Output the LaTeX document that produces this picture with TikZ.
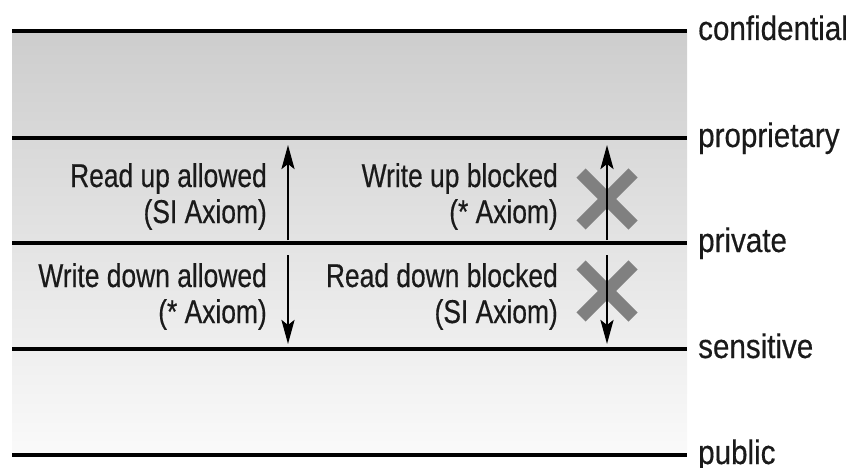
\documentclass[tikz,border=0pt]{standalone}
\usepackage{fontspec}
\setmainfont{Liberation Sans}[FakeStretch=0.8,FakeBold=0.4]
\newfontfamily\levelfont{Liberation Sans}[FakeStretch=0.87,FakeBold=0.4]
\usetikzlibrary{arrows.meta}
\definecolor{xgray}{HTML}{808080}
\definecolor{topg}{HTML}{CDCDCD}
\definecolor{botg}{HTML}{FAFAFA}
\definecolor{txt}{HTML}{1A1A1A}
\begin{document}
\begin{tikzpicture}[x=1pt,y=1pt,
  levelline/.style={line width=4.5pt,black},
  levellabel/.style={anchor=base west,inner sep=0pt,text=txt,font=\levelfont\fontsize{34}{38}\selectfont},
  desc/.style={anchor=base east,inner sep=0pt,text=txt,font=\fontsize{33}{38}\selectfont},
  flow/.style={line width=2.6pt,black,-{Stealth[length=24pt,width=13pt,inset=5pt]}},
  blockx/.style={line width=13pt,xgray}]
\useasboundingbox (0,0) rectangle (854,-468);
% gradient band
\shade[top color=topg,bottom color=botg] (12,-31) rectangle (687,-455);
% level lines and labels
\foreach \y/\name/\lab in {31/confidential/confidential,138/proprietary/proprietary,243/private/private,349/sensitive/sensitive,455/public/public}{
  \coordinate (\name-s) at (12,-\y);
  \coordinate (\name-e) at (687,-\y);
  \draw[levelline] (\name-s) -- (\name-e);
  \node[levellabel] (\name-lab) at (698,-\y-9) {\lab};
}
% blocked crosses
\coordinate (x1) at (607,-199);
\coordinate (x2) at (607,-291);
\foreach \c in {x1,x2}{
  \draw[blockx] ([shift={(-26,-26)}]\c) -- ([shift={(26,26)}]\c);
  \draw[blockx] ([shift={(26,-26)}]\c) -- ([shift={(-26,26)}]\c);
}
% arrows
\coordinate (a1s) at (288,-240);
\coordinate (a1e) at (288,-145);
\coordinate (a2s) at (288,-255);
\coordinate (a2e) at (288,-344);
\coordinate (a3s) at (607,-240);
\coordinate (a3e) at (607,-145);
\coordinate (a4s) at (607,-255);
\coordinate (a4e) at (607,-344);
\draw[flow] (a1s) -- (a1e);
\draw[flow] (a2s) -- (a2e);
\draw[flow] (a3s) -- (a3e);
\draw[flow] (a4s) -- (a4e);
% descriptions
\node[desc] (rua) at (267,-187) {Read up allowed};
\node[desc] (rub) at (267,-223) {(SI Axiom)};
\node[desc] (wda) at (267,-287) {Write down allowed};
\node[desc] (wdb) at (267,-323) {(* Axiom)};
\node[desc] (wua) at (558,-187) {Write up blocked};
\node[desc] (wub) at (558,-223) {(* Axiom)};
\node[desc] (rda) at (558,-287) {Read down blocked};
\node[desc] (rdb) at (558,-323) {(SI Axiom)};
\end{tikzpicture}
\end{document}
